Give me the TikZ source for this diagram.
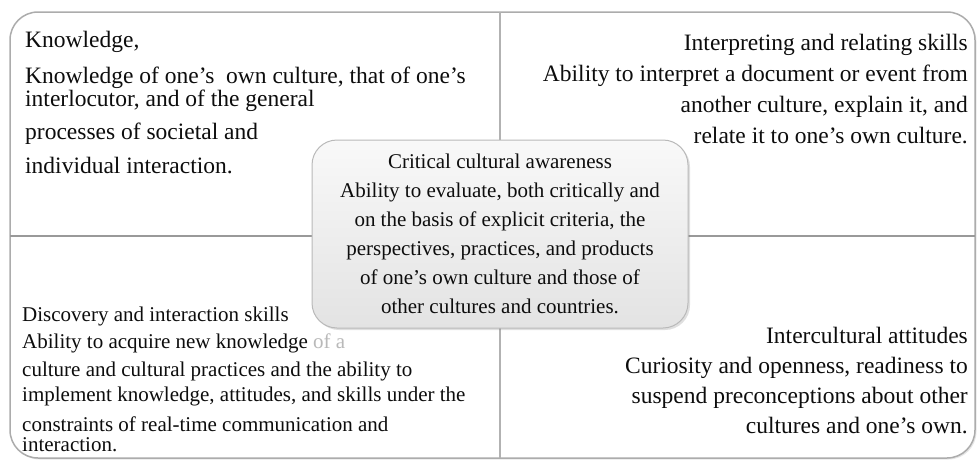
\documentclass[tikz,border=0pt]{standalone}
\usepackage{fontspec}
\setmainfont{Liberation Serif}
\usetikzlibrary{shadows}

\tikzset{
	cell/.style={inner sep=0pt, text=black!95},
	bigtext/.style={font=\fontsize{23.5}{31}\selectfont},
	smalltext/.style={font=\fontsize{21}{27}\selectfont},
	hub/.style={draw=gray!55, line width=1pt, rounded corners=25pt,
		top color=gray!5, bottom color=gray!22,
		minimum width=376pt, minimum height=188pt, align=center, inner sep=0pt,
		font=\fontsize{21}{29}\selectfont, text=black!95,
		drop shadow={opacity=0.25, shadow xshift=2pt, shadow yshift=-2pt}},
}

\begin{document}
\begin{tikzpicture}[x=1pt,y=-1pt]
	\useasboundingbox (0,0) rectangle (978,466);
	\coordinate (NW) at (10,12);
	\coordinate (SE) at (975,458);
	\coordinate (N) at (500,12);
	\coordinate (S) at (500,458);
	\coordinate (W) at (10,236);
	\coordinate (E) at (975,236);
	
	\draw[fill=white, draw=gray!65, line width=1.5pt, rounded corners=28pt,
		drop shadow={opacity=0.2, shadow xshift=1.5pt, shadow yshift=-1.5pt}] (NW) rectangle (SE);
	\draw[gray!60, line width=2pt] (N) -- (S);
	\draw[gray!80, line width=1.5pt] (W) -- (E);
	
	\node (knowledge) at (25,31) [cell, bigtext, anchor=north west, align=left]
		{Knowledge,\\[5pt]
		Knowledge of one’s~ own culture, that of one’s\\[-8pt]
		interlocutor, and of the general\\[2pt]
		processes of societal and\\[3pt]
		individual interaction.};
	\node (interpreting) at (968,34) [cell, bigtext, anchor=north east, align=right]
		{Interpreting and relating skills\\
		Ability to interpret a document or event from\\
		another culture, explain it, and\\
		relate it to one’s own culture.};
	\node (discovery) at (22,307) [cell, smalltext, anchor=north west, align=left]
		{Discovery and interaction skills\\
		Ability to acquire new knowledge {\color{gray!55}of a}\\[1pt]
		culture and cultural practices and the ability to\\[-2pt]
		implement knowledge, attitudes, and skills under the\\[3pt]
		constraints of real-time communication and\\[-7pt]
		interaction.};
	\node (attitudes) at (968,327) [cell, bigtext, anchor=north east, align=right]
		{Intercultural attitudes\\[-1pt]
		Curiosity and openness, readiness to\\[-1pt]
		suspend preconceptions about other\\[-1pt]
		cultures and one’s own.};
	
	\node (awareness) at (500,234) [hub]
		{Critical cultural awareness\\
		Ability to evaluate, both critically and\\
		on the basis of explicit criteria, the\\
		perspectives, practices, and products\\
		of one’s own culture and those of\\
		other cultures and countries.};
\end{tikzpicture}
\end{document}
